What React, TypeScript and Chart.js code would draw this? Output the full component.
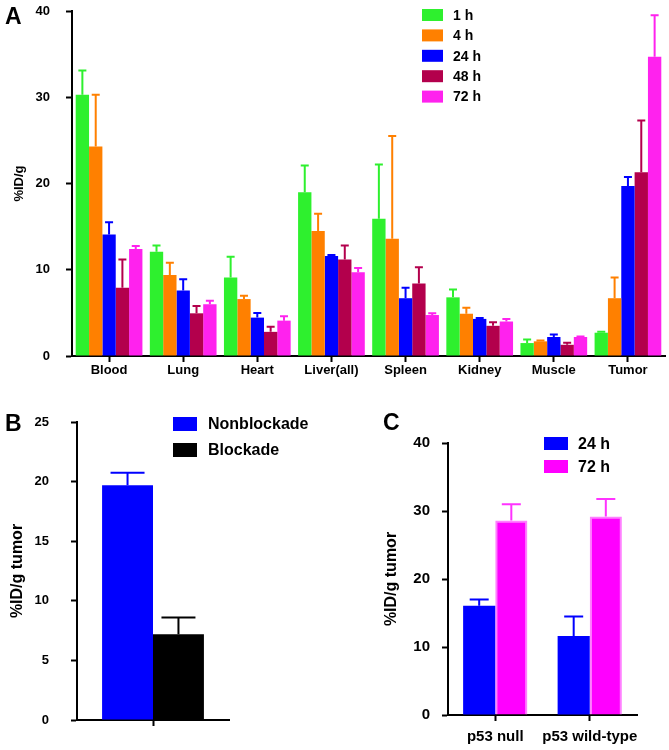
import React, { useEffect, useRef } from 'react';
import { Chart, registerables } from 'chart.js';

Chart.register(...registerables);

const FONT = '"Liberation Sans", Arial, Helvetica, sans-serif';
Chart.defaults.font.family = FONT;
Chart.defaults.color = '#000';

// ---------- Panel A data ----------
const organs = ['Blood', 'Lung', 'Heart', 'Liver(all)', 'Spleen', 'Kidney', 'Muscle', 'Tumor'];
const timeLabels = ['1 h', '4 h', '24 h', '48 h', '72 h'];
const mean1h = [30.3, 12.1, 9.1, 19.0, 15.9, 6.8, 1.5, 2.7];
const sd1h = [2.8, 0.7, 2.4, 3.1, 6.3, 0.9, 0.4, 0.1];
const mean4h = [24.3, 9.4, 6.6, 14.5, 13.6, 4.9, 1.7, 6.7];
const sd4h = [6.0, 1.4, 0.4, 2.0, 11.9, 0.7, 0.1, 2.4];
const mean24h = [14.1, 7.6, 4.45, 11.6, 6.7, 4.3, 2.2, 19.7];
const sd24h = [1.4, 1.3, 0.55, 0.1, 1.2, 0.1, 0.3, 1.05];
const mean48h = [7.9, 4.95, 2.8, 11.2, 8.4, 3.5, 1.3, 21.3];
const sd48h = [3.3, 0.85, 0.6, 1.6, 1.9, 0.4, 0.25, 6.0];
const mean72h = [12.4, 6.0, 4.1, 9.7, 4.75, 4.0, 2.2, 34.7];
const sd72h = [0.35, 0.4, 0.5, 0.5, 0.2, 0.3, 0.05, 4.8];
const yTicksA = [0, 10, 20, 30, 40];

// ---------- Panel B data ----------
const groupB = [''];
const blockLabels = ['Nonblockade', 'Blockade'];
const nonblockade = [19.7];
const nonblockadeSd = [1.05];
const blockade = [7.2];
const blockadeSd = [1.4];
const yTicksB = [0, 5, 10, 15, 20, 25];

// ---------- Panel C data ----------
const genotypes = ['p53 null', 'p53 wild-type'];
const timeLabelsC = ['24 h', '72 h'];
const c24h = [16.05, 11.6];
const c24hSd = [0.95, 2.9];
const c72h = [28.6, 29.2];
const c72hSd = [2.4, 2.55];
const yTicksC = [0, 10, 20, 30, 40];

// ---------- plugins ----------
const errorBarPlugin = {
  id: 'errorBars',
  afterDatasetsDraw(chart: any, _args: any, opts: any) {
    const ctx = chart.ctx;
    const yScale = chart.scales.y;
    chart.data.datasets.forEach((ds: any, i: number) => {
      const errs = ds.errors;
      if (!errs) return;
      const meta = chart.getDatasetMeta(i);
      ctx.save();
      ctx.strokeStyle = ds.errorColor || ds.backgroundColor;
      ctx.lineWidth = opts.lineWidth || 2;
      meta.data.forEach((bar: any, j: number) => {
        const v = ds.data[j];
        const e = errs[j];
        const yBase = yScale.getPixelForValue(v);
        const yTop = yScale.getPixelForValue(v + e);
        const half = (opts.capWidth || 8) / 2;
        ctx.beginPath();
        ctx.moveTo(bar.x, yBase);
        ctx.lineTo(bar.x, yTop);
        ctx.moveTo(bar.x - half, yTop);
        ctx.lineTo(bar.x + half, yTop);
        ctx.stroke();
      });
      ctx.restore();
    });
  },
};

const boxLegendPlugin = {
  id: 'boxLegend',
  afterDraw(chart: any, _args: any, opts: any) {
    const ctx = chart.ctx;
    ctx.save();
    ctx.font = `bold ${opts.fontSize}px ${FONT}`;
    ctx.textBaseline = 'middle';
    ctx.textAlign = 'left';
    chart.data.datasets.forEach((ds: any, i: number) => {
      const cy = opts.y + i * opts.gap;
      ctx.fillStyle = ds.backgroundColor;
      ctx.fillRect(opts.x, cy - opts.boxH / 2, opts.boxW, opts.boxH);
      ctx.fillStyle = '#000';
      ctx.fillText(ds.label, opts.textX, cy + 1);
    });
    ctx.restore();
  },
};

function scalesFor(p: any) {
  const grid = {
    display: true,
    drawOnChartArea: false,
    drawTicks: true,
    offset: false,
    tickLength: 6,
    tickWidth: 2,
    tickColor: '#000',
  };
  const border = { display: true, color: '#000', width: 2 };
  return {
    x: {
      type: 'category',
      offset: true,
      grid,
      border,
      ticks: {
        color: '#000',
        font: { size: p.xFont, weight: 'bold' },
        padding: p.xPad,
        maxRotation: 0,
        minRotation: 0,
        autoSkip: false,
      },
      afterFit: (s: any) => {
        s.height = p.xHeight;
      },
    },
    y: {
      min: 0,
      max: p.yTicks[p.yTicks.length - 1],
      grid,
      border,
      ticks: {
        color: '#000',
        font: { size: p.yFont, weight: 'bold' },
        padding: p.yPad,
      },
      afterBuildTicks: (s: any) => {
        s.ticks = p.yTicks.map((v: number) => ({ value: v }));
      },
      afterFit: (s: any) => {
        s.width = p.yWidth;
        s.paddingTop = 0;
        s.paddingBottom = 0;
      },
      title: {
        display: true,
        text: p.yTitle,
        color: '#000',
        font: { size: p.titleFont, weight: 'bold' },
        padding: { top: p.titlePad, bottom: 0 },
      },
    },
  };
}

function baseOptions(p: any) {
  return {
    responsive: false,
    devicePixelRatio: 1,
    animation: false,
    layout: { padding: p.padding },
    plugins: {
      legend: { display: false },
      tooltip: { enabled: false },
      errorBars: p.errorBars,
      boxLegend: p.legend,
    },
    scales: scalesFor(p),
  };
}

function ChartCanvas({ width, height, left, top, build }: any) {
  const ref = useRef<HTMLCanvasElement | null>(null);
  useEffect(() => {
    const chart = new Chart(ref.current as HTMLCanvasElement, build());
    return () => chart.destroy();
  }, []);
  return (
    <canvas
      ref={ref}
      width={width}
      height={height}
      style={{ position: 'absolute', left, top, width, height, display: 'block' }}
    />
  );
}

const colorsA = ['#2ef02e', '#ff8000', '#0000ff', '#b3004c', '#ff22ee'];

function buildA(): any {
  const means = [mean1h, mean4h, mean24h, mean48h, mean72h];
  const sds = [sd1h, sd4h, sd24h, sd48h, sd72h];
  return {
    type: 'bar',
    data: {
      labels: organs,
      datasets: timeLabels.map((lab, i) => ({
        label: lab,
        data: means[i],
        errors: sds[i],
        backgroundColor: colorsA[i],
        borderWidth: 0,
        barPercentage: 1,
        categoryPercentage: 0.9,
      })),
    },
    options: baseOptions({
      padding: { left: 0, top: 11, right: 4, bottom: 0 },
      xFont: 13,
      xPad: 1,
      xHeight: 34,
      yFont: 13,
      yPad: 16,
      yWidth: 72,
      yTicks: yTicksA,
      yTitle: '%ID/g',
      titleFont: 13,
      titlePad: 12,
      errorBars: { capWidth: 8, lineWidth: 2 },
      legend: { x: 422, y: 15, gap: 20.4, boxW: 21, boxH: 12, textX: 453, fontSize: 14 },
    }),
    plugins: [errorBarPlugin, boxLegendPlugin],
  };
}

function buildB(): any {
  return {
    type: 'bar',
    data: {
      labels: groupB,
      datasets: [
        {
          label: blockLabels[0],
          data: nonblockade,
          errors: nonblockadeSd,
          backgroundColor: '#0000ff',
          borderWidth: 0,
          barPercentage: 1,
          categoryPercentage: 0.67,
        },
        {
          label: blockLabels[1],
          data: blockade,
          errors: blockadeSd,
          backgroundColor: '#000000',
          borderWidth: 0,
          barPercentage: 1,
          categoryPercentage: 0.67,
        },
      ],
    },
    options: baseOptions({
      padding: { left: 0, top: 32, right: 111, bottom: 0 },
      xFont: 13,
      xPad: 2,
      xHeight: 30,
      yFont: 13,
      yPad: 22,
      yWidth: 77,
      yTicks: yTicksB,
      yTitle: '%ID/g tumor',
      titleFont: 16,
      titlePad: 8,
      errorBars: { capWidth: 34, lineWidth: 2 },
      legend: { x: 173, y: 34, gap: 26, boxW: 24, boxH: 14, textX: 208, fontSize: 16 },
    }),
    plugins: [errorBarPlugin, boxLegendPlugin],
  };
}

function buildC(): any {
  return {
    type: 'bar',
    data: {
      labels: genotypes,
      datasets: [
        {
          label: timeLabelsC[0],
          data: c24h,
          errors: c24hSd,
          backgroundColor: '#0000ff',
          borderWidth: 0,
          barPercentage: 1,
          categoryPercentage: 0.68,
        },
        {
          label: timeLabelsC[1],
          data: c72h,
          errors: c72hSd,
          backgroundColor: '#ff00ff',
          errorColor: '#ff33ff',
          borderColor: '#ff80ff',
          borderWidth: 2,
          barPercentage: 1,
          categoryPercentage: 0.68,
        },
      ],
    },
    options: baseOptions({
      padding: { left: 0, top: 53, right: 32, bottom: 0 },
      xFont: 15,
      xPad: 7,
      xHeight: 35,
      yFont: 15,
      yPad: 12,
      yWidth: 108,
      yTicks: yTicksC,
      yTitle: '%ID/g tumor',
      titleFont: 16,
      titlePad: 42,
      errorBars: { capWidth: 19, lineWidth: 2 },
      legend: { x: 204, y: 53.5, gap: 23, boxW: 24, boxH: 13, textX: 238, fontSize: 16 },
    }),
    plugins: [errorBarPlugin, boxLegendPlugin],
  };
}

const panelLabelStyle: any = {
  position: 'absolute',
  fontFamily: FONT,
  fontWeight: 'bold',
  fontSize: 23,
  lineHeight: '23px',
  color: '#000',
  margin: 0,
};

export default function App() {
  return (
    <div
      style={{
        position: 'fixed',
        left: 0,
        top: 0,
        width: 669,
        height: 750,
        background: '#fff',
        overflow: 'hidden',
      }}
    >
      <ChartCanvas width={669} height={390} left={0} top={0} build={buildA} />
      <ChartCanvas width={340} height={360} left={0} top={390} build={buildB} />
      <ChartCanvas width={329} height={360} left={340} top={390} build={buildC} />
      <div style={{ ...panelLabelStyle, left: 5, top: 5 }}>A</div>
      <div style={{ ...panelLabelStyle, left: 5, top: 412 }}>B</div>
      <div style={{ ...panelLabelStyle, left: 383, top: 411 }}>C</div>
    </div>
  );
}
